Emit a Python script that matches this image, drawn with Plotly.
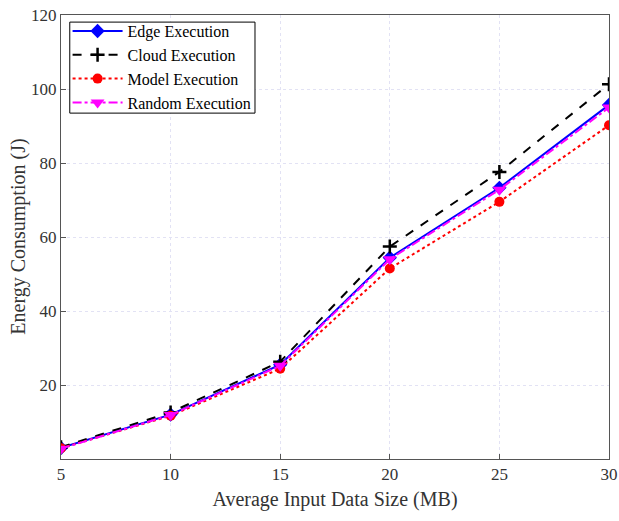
import plotly.graph_objects as go

# data
data_size = [5, 10, 15, 20, 25, 30]
edge_energy = [3.0, 12.0, 25.5, 54.4, 73.3, 95.7]
cloud_energy = [3.2, 12.6, 26.3, 57.4, 77.6, 101.3]
model_energy = [2.9, 11.7, 24.4, 51.5, 69.5, 90.2]
random_energy = [2.8, 11.9, 25.2, 54.0, 72.8, 95.0]

font_family = "Liberation Serif"

fig = go.Figure()

fig.add_trace(go.Scatter(x=data_size, y=edge_energy, name="Edge Execution", mode="lines+markers",
                         line=dict(color="blue", width=2),
                         marker=dict(symbol="diamond", size=11, color="blue")))
fig.add_trace(go.Scatter(x=data_size, y=cloud_energy, name="Cloud Execution", mode="lines+markers",
                         line=dict(color="black", width=2, dash="dash"),
                         marker=dict(symbol="cross-thin", size=10, color="black",
                                     line=dict(color="black", width=2.5))))
fig.add_trace(go.Scatter(x=data_size, y=model_energy, name="Model Execution", mode="lines+markers",
                         line=dict(color="red", width=2, dash="dot"),
                         marker=dict(symbol="circle", size=10, color="red")))
fig.add_trace(go.Scatter(x=data_size, y=random_energy, name="Random Execution", mode="lines+markers",
                         line=dict(color="magenta", width=2, dash="dashdot"),
                         marker=dict(symbol="triangle-down", size=12, color="magenta")))

axis_common = dict(
    showline=True, linecolor="#555555", linewidth=1, mirror=True,
    ticks="inside", ticklen=5, tickcolor="#555555",
    showgrid=True, gridcolor="#e2e2f4", griddash="dot", gridwidth=1,
    zeroline=False, automargin=False,
    tickfont=dict(family=font_family, size=17, color="#333333"),
)

fig.update_xaxes(range=[5, 30], tickvals=[5, 10, 15, 20, 25, 30],
                 title=dict(text="Average Input Data Size (MB)",
                            font=dict(family=font_family, size=20, color="#333333"), standoff=8),
                 **axis_common)
fig.update_yaxes(range=[0, 120], tickvals=[20, 40, 60, 80, 100, 120], **axis_common)

# y title as an annotation so it sits where the reference has it
fig.add_annotation(text="Energy Consumption (J)", xref="paper", yref="paper",
                   x=-0.079, y=0.5, xanchor="center", yanchor="middle", textangle=-90,
                   showarrow=False, font=dict(family=font_family, size=20, color="#333333"))

# legend frame drawn as a shape so it can hug the entries tighter than plotly's padding
fig.add_shape(type="rect", xref="paper", yref="paper",
              x0=0.016, x1=0.354, y0=0.779, y1=0.984,
              line=dict(color="black", width=1), fillcolor="white", layer="above")

fig.update_layout(
    width=619, height=521,
    margin=dict(l=61, r=10, t=15, b=62),
    plot_bgcolor="white", paper_bgcolor="white",
    font=dict(family=font_family, color="black"),
    legend=dict(x=0.012, y=1.002, xanchor="left", yanchor="top",
                bgcolor="rgba(0,0,0,0)", borderwidth=0,
                font=dict(family=font_family, size=16, color="black"),
                tracegroupgap=0, itemwidth=50),
)

# page has a default 8px body margin; drop it so the figure sits at the corner
fig.write_html("out.html", config={"displayModeBar": False},
               post_script="document.body.style.margin='0';")
